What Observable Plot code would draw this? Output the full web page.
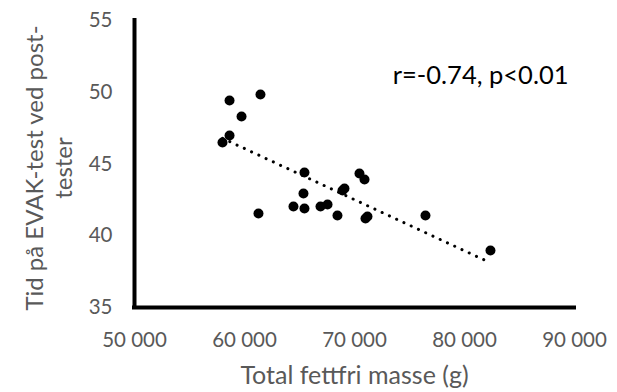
<!DOCTYPE html>
<html>
<head>
<meta charset="utf-8">
<script src="https://cdn.jsdelivr.net/npm/d3@7"></script>
<script src="https://cdn.jsdelivr.net/npm/@observablehq/plot@0.6"></script>
<style>
  html, body { margin: 0; padding: 0; background: #fff; }
  svg { display: block; }
</style>
</head>
<body>
<div id="chart"></div>
<script>
const mass = [58000, 58640, 58640, 59730, 61450, 61270, 64450, 65450, 65360, 65450, 66910, 67550, 68450, 68910, 69090, 70450, 70910, 71000, 71180, 76450, 82360];
const time = [46.50, 46.99, 49.43, 48.31, 49.84, 41.55, 42.04, 41.90, 42.94, 44.41, 42.04, 42.18, 41.41, 43.15, 43.29, 44.34, 43.92, 41.20, 41.34, 41.41, 38.97];
const xTicks = [50000, 60000, 70000, 80000, 90000];
const yTicks = [35, 40, 45, 50, 55];
const annotation = "r=-0.74, p<0.01";
const xLabel = "Total fettfri masse (g)";
const yLabel = "Tid på EVAK-test ved post-\ntester";

const data = mass.map((m, i) => ({mass: m, time: time[i]}));
const fmt = d => d3.format(",")(d).replace(/,/g, "\u00a0");
const font = "Lato, 'Open Sans', sans-serif";
const grey = "#595959";

const chart = Plot.plot({
  width: 617,
  height: 392,
  marginLeft: 134,
  marginRight: 43,
  marginTop: 20,
  marginBottom: 85,
  style: {fontFamily: font, background: "#fff"},
  x: {domain: [50000, 90000]},
  y: {domain: [35, 55]},
  marks: [
    Plot.axisX({ticks: xTicks, tickFormat: fmt, tickSize: 0, tickPadding: 25, fontSize: 20.5, fill: grey, label: null}),
    Plot.axisY({ticks: yTicks, tickSize: 0, tickPadding: 22, fontSize: 20.5, fill: grey, label: null}),
    Plot.linearRegressionY(data, {x: "mass", y: "time", ci: 0, stroke: "#000", strokeWidth: 3, strokeDasharray: "0.1 7.9", strokeLinecap: "round"}),
    Plot.dot(data, {x: "mass", y: "time", r: 5, fill: "#000", stroke: "none"}),
    Plot.ruleX([50000], {stroke: "#000", strokeWidth: 4, strokeLinecap: "square"}),
    Plot.ruleY([35], {stroke: "#000", strokeWidth: 4, strokeLinecap: "square"}),
    Plot.text([annotation], {frameAnchor: "top-right", textAnchor: "end", lineAnchor: "middle", dx: -6, dy: 55, fontSize: 25.5, fill: "#000", fontFamily: font}),
    Plot.text([xLabel], {frameAnchor: "bottom", textAnchor: "middle", lineAnchor: "middle", dy: 68, fontSize: 25, fill: grey, fontFamily: font}),
    Plot.text([yLabel], {frameAnchor: "left", textAnchor: "middle", rotate: -90, lineAnchor: "middle", lineHeight: 1.2, dx: -86, dy: 4, fontSize: 24, fill: grey, fontFamily: font})
  ]
});
document.getElementById("chart").appendChild(chart);
</script>
</body>
</html>
